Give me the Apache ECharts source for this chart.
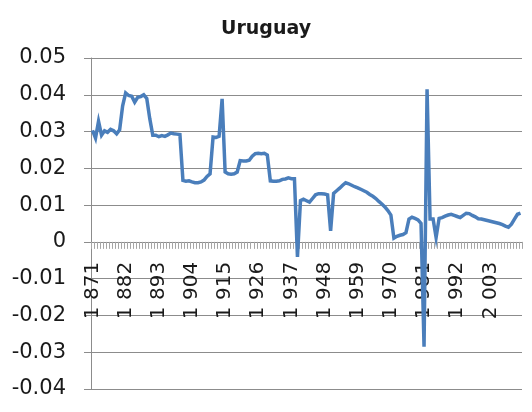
<!DOCTYPE html>
<html>
<head>
<meta charset="utf-8">
<script src="https://cdn.jsdelivr.net/npm/echarts@6/dist/echarts.min.js"></script>
<style>
  html, body { margin: 0; padding: 0; background: #ffffff; }
  #chart { width: 532px; height: 412px; }
</style>
</head>
<body>
<div id="chart"></div>
<script>
// Title
const chartTitle = 'Uruguay';

// Categories: years 1871..2013
const years = [];
for (let y = 1871; y <= 2013; y++) years.push(String(y));

// Series values, one per year
const values1871to1900 = [
  0.0303, 0.0282, 0.0328, 0.0290, 0.0302, 0.0298, 0.0306, 0.0302, 0.0294, 0.0305,
  0.0370, 0.0405, 0.0398, 0.0396, 0.0380, 0.0393, 0.0395, 0.0400, 0.0390, 0.0335,
  0.0290, 0.0290, 0.0286, 0.0289, 0.0287, 0.0291, 0.0296, 0.0294, 0.0293, 0.0292
];
const values1901to1930 = [
  0.0167, 0.0165, 0.0166, 0.0163, 0.0161, 0.0161, 0.0163, 0.0168, 0.0178, 0.0185,
  0.0285, 0.0284, 0.0287, 0.0389, 0.0190, 0.0185, 0.0184, 0.0185, 0.0190, 0.0221,
  0.0220, 0.0220, 0.0222, 0.0233, 0.0240, 0.0241, 0.0240, 0.0241, 0.0236, 0.0166
];
const values1931to1960 = [
  0.0165, 0.0165, 0.0166, 0.0170, 0.0171, 0.0174, 0.0172, 0.0172, -0.0041, 0.0112,
  0.0116, 0.0112, 0.0108, 0.0118, 0.0128, 0.0131, 0.0131, 0.0130, 0.0128, 0.0030,
  0.0132, 0.0139, 0.0146, 0.0154, 0.0161, 0.0158, 0.0154, 0.0150, 0.0147, 0.0143
];
const values1961to1990 = [
  0.0139, 0.0135, 0.0129, 0.0124, 0.0118, 0.0110, 0.0103, 0.0095, 0.0085, 0.0073,
  0.0010, 0.0015, 0.0018, 0.0020, 0.0025, 0.0062, 0.0067, 0.0064, 0.0060, 0.0050,
  -0.0285, 0.0415, 0.0062, 0.0062, 0.0012, 0.0064, 0.0066, 0.0070, 0.0073, 0.0075
];
const values1991to2013 = [
  0.0072, 0.0069, 0.0066, 0.0072, 0.0078, 0.0077, 0.0072, 0.0068, 0.0063, 0.0062,
  0.0060, 0.0058, 0.0056, 0.0054, 0.0052, 0.0050, 0.0047, 0.0043, 0.0040, 0.0048,
  0.0062, 0.0075, 0.0078
];
const values = [].concat(values1871to1900, values1901to1930, values1931to1960,
                         values1961to1990, values1991to2013);

// Y axis range / ticks
const yMin = -0.04, yMax = 0.05, yStep = 0.01;
// X labels every 11 years
const xLabelEvery = 11;

// Layout of the plot area
const gridTop = 58, gridBottom = 23, chartH = 412;
const plotH = chartH - gridTop - gridBottom;
// distance from the grid bottom up to the value 0 (axis crosses there)
const zeroOffset = plotH * (0 - yMin) / (yMax - yMin);

const chart = echarts.init(document.getElementById('chart'), null, { renderer: 'canvas' });
chart.setOption({
  backgroundColor: '#ffffff',
  animation: false,
  title: {
    text: chartTitle,
    left: 'center',
    top: 20,
    padding: 0,
    textStyle: { fontFamily: 'DejaVu Sans', fontWeight: 'bold', fontSize: 19, color: '#1a1a1a' }
  },
  grid: { left: 91, right: 10, top: gridTop, bottom: gridBottom, containLabel: false, outerBoundsMode: 'none' },
  xAxis: {
    type: 'category',
    data: years,
    boundaryGap: true,
    position: 'bottom',
    offset: -zeroOffset,
    axisLine: { onZero: false, lineStyle: { color: '#8c8c8c', width: 1 } },
    axisTick: { show: true, interval: 0, length: 7, lineStyle: { color: '#a6a6a6', width: 1 } },
    axisLabel: {
      interval: xLabelEvery - 1,
      rotate: 90,
      margin: 20,
      fontFamily: 'DejaVu Sans',
      fontSize: 20,
      color: '#1a1a1a',
      formatter: function (v) { return v.slice(0, 1) + ' ' + v.slice(1); }
    },
    splitLine: { show: false }
  },
  yAxis: {
    type: 'value',
    min: yMin,
    max: yMax,
    interval: yStep,
    axisLine: { show: true, onZero: false, lineStyle: { color: '#8c8c8c', width: 1 } },
    axisTick: { show: true, length: 7, lineStyle: { color: '#8c8c8c', width: 1 } },
    axisLabel: {
      margin: 25,
      fontFamily: 'DejaVu Sans',
      fontSize: 21,
      color: '#1a1a1a',
      formatter: function (v) { return String(parseFloat(v.toFixed(2))); }
    },
    splitLine: { show: true, lineStyle: { color: '#8c8c8c', width: 1 } }
  },
  series: [{
    type: 'line',
    data: values,
    symbol: 'none',
    smooth: false,
    lineStyle: { color: '#4a7ebb', width: 3.5, join: 'miter' },
    z: 5
  }]
});
</script>
</body>
</html>
